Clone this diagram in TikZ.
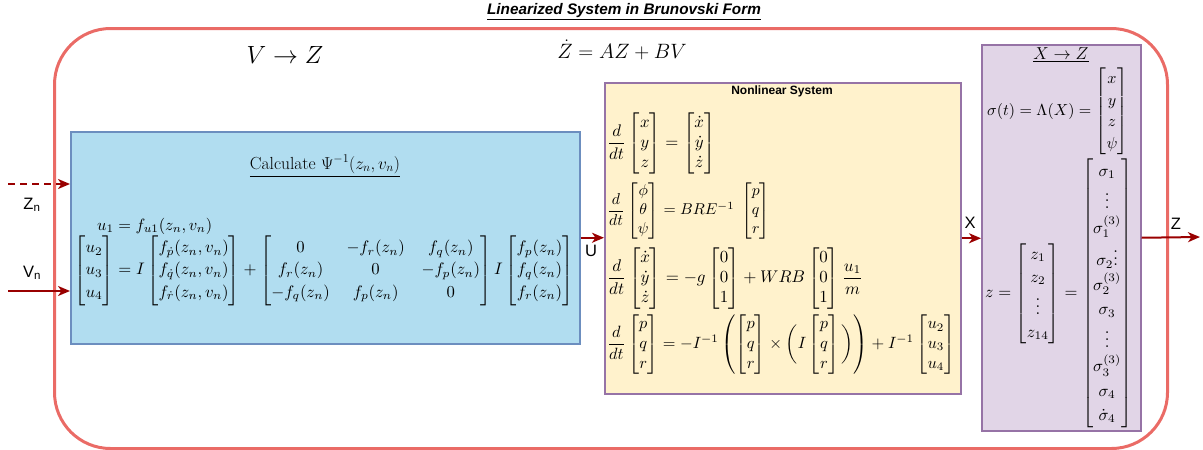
\documentclass[tikz,border=0pt]{standalone}
\usepackage{amsmath}
\usepackage{graphicx}
\usepackage{fontspec}
\setsansfont{Liberation Sans}
\usetikzlibrary{arrows.meta}
\definecolor{outerred}{HTML}{EA6B66}
\definecolor{bluefill}{HTML}{B1DDF0}
\definecolor{bluedraw}{HTML}{6C8EBF}
\definecolor{yelfill}{HTML}{FFF2CC}
\definecolor{purdraw}{HTML}{9673A6}
\definecolor{purfill}{HTML}{E1D5E7}
\definecolor{arrred}{HTML}{990000}
\begin{document}
\begin{tikzpicture}[x=1pt,y=-1pt,
  box/.style={anchor=north west, inner sep=0pt, line width=1.5pt},
  arr/.style={draw=arrred, line width=2pt, -{Stealth[length=12pt,width=10pt,inset=3.5pt]}},
  lab/.style={font=\fontsize{16.5}{19}\selectfont\sffamily, inner sep=0pt},
  eq/.style={inner sep=0pt},
]
\useasboundingbox (0,0) rectangle (1203,450);
% boxes
\node[box, draw=outerred, line width=3pt, rounded corners=56pt, minimum width=1113pt, minimum height=420pt] (outer) at (53,27) {};
\node[box, fill=bluefill, draw=bluedraw, minimum width=509pt, minimum height=212pt] (blue) at (70,131) {};
\node[box, fill=yelfill, draw=purdraw, minimum width=356pt, minimum height=311pt] (yellow) at (604,82) {};
\node[box, fill=purfill, draw=purdraw, minimum width=159pt, minimum height=386pt] (purple) at (981,44) {};
% titles
\node[eq] (title) at (624,12) {\fontsize{15.3}{18}\selectfont\sffamily\bfseries\itshape\underline{Linearized System in Brunovski Form}};
\node[eq] (vz) at (285,55) {\fontsize{24}{28}\selectfont $V\rightarrow Z$};
\node[eq] (zdot) at (622,50) {\fontsize{20}{24}\selectfont $\dot{Z} = AZ + BV$};
% blue box content
\node[eq] (calc) at (325,166) {\fontsize{17.5}{21}\selectfont $\underline{\text{Calculate } \Psi^{-1}(z_n,v_n)}$};
\node[eq, anchor=west] (u1) at (97,226) {\resizebox{115pt}{!}{$u_1 = f_{u1}(z_n,v_n)$}};
\node[eq] (beq) at (324,270.5) {\resizebox{499pt}{!}{\renewcommand{\arraystretch}{1.12}$\begin{bmatrix}u_2\\u_3\\u_4\end{bmatrix} = I\begin{bmatrix}f_{\dot p}(z_n,v_n)\\ f_{\dot q}(z_n,v_n)\\ f_{\dot r}(z_n,v_n)\end{bmatrix} + \begin{bmatrix}0 & -f_r(z_n) & f_q(z_n)\\ f_r(z_n) & 0 & -f_p(z_n)\\ -f_q(z_n) & f_p(z_n) & 0\end{bmatrix} I \begin{bmatrix}f_p(z_n)\\f_q(z_n)\\f_r(z_n)\end{bmatrix}$}};
% yellow box content
\node[eq] (nltitle) at (782,91) {\fontsize{12}{14}\selectfont\sffamily\bfseries Nonlinear System};
\node[eq, anchor=west] (e1) at (607,143.5) {\resizebox{108pt}{!}{$\dfrac{d}{dt}\begin{bmatrix}x\\y\\z\end{bmatrix} = \begin{bmatrix}\dot x\\\dot y\\\dot z\end{bmatrix}$}};
\node[eq, anchor=west] (e2) at (607,211) {\resizebox{163pt}{!}{$\dfrac{d}{dt}\begin{bmatrix}\phi\\\theta\\\psi\end{bmatrix} = BRE^{-1}\;\begin{bmatrix}p\\q\\r\end{bmatrix}$}};
\node[eq, anchor=west] (e3) at (607,278.5) {\resizebox{256pt}{!}{$\dfrac{d}{dt}\begin{bmatrix}\dot x\\\dot y\\\dot z\end{bmatrix} = -g\begin{bmatrix}0\\0\\1\end{bmatrix} + WRB\begin{bmatrix}0\\0\\1\end{bmatrix}\dfrac{u_1}{m}$}};
\node[eq, anchor=west] (e4) at (607,344.5) {\resizebox{348pt}{!}{$\dfrac{d}{dt}\begin{bmatrix}p\\q\\r\end{bmatrix} = -I^{-1}\left(\begin{bmatrix}p\\q\\r\end{bmatrix}\times\bigg(I\begin{bmatrix}p\\q\\r\end{bmatrix}\bigg)\right) + I^{-1}\begin{bmatrix}u_2\\u_3\\u_4\end{bmatrix}$}};
% purple box content
\node[eq] (xz) at (1061,55) {\fontsize{16}{19}\selectfont $\underline{X\rightarrow Z}$};
\node[eq, anchor=west] (sig) at (987,111.5) {\resizebox{141pt}{!}{\renewcommand{\arraystretch}{1.12}$\sigma(t) = \Lambda(X) = \begin{bmatrix}x\\y\\z\\\psi\end{bmatrix}$}};
\node[eq, anchor=west] (zeq) at (985,293.5) {\resizebox{147pt}{!}{\renewcommand{\arraystretch}{1.15}$z = \begin{bmatrix}z_1\\z_2\\\vdots\\z_{14}\end{bmatrix} = \renewcommand{\arraystretch}{1.22}\begin{bmatrix}\sigma_1\\\vdots\\\sigma_1^{(3)}\\\sigma_2\vdots\\\sigma_2^{(3)}\\\sigma_3\\\vdots\\\sigma_3^{(3)}\\\sigma_4\\\dot\sigma_4\end{bmatrix}$}};
% connectors
\coordinate (zn0) at (8,184);
\coordinate (vn0) at (8,291);
\coordinate (zend) at (1200,237);
\draw[arr, dash pattern=on 7pt off 5pt] (zn0) -- (zn0 -| blue.west);
\draw[arr] (vn0) -- (vn0 -| blue.west);
\draw[arr] (blue.east) -- (blue.east -| yellow.west);
\draw[arr] (yellow.east) -- (yellow.east -| purple.west);
\draw[arr] (purple.east) -- (zend);
% labels
\node[lab] (znl) at (32,205) {Z\textsubscript{n}};
\node[lab] (vnl) at (32,273) {V\textsubscript{n}};
\node[lab] (ul) at (591,251) {U};
\node[lab] (xl) at (970,223) {X};
\node[lab] (zl) at (1176,224) {Z};
\end{tikzpicture}
\end{document}
